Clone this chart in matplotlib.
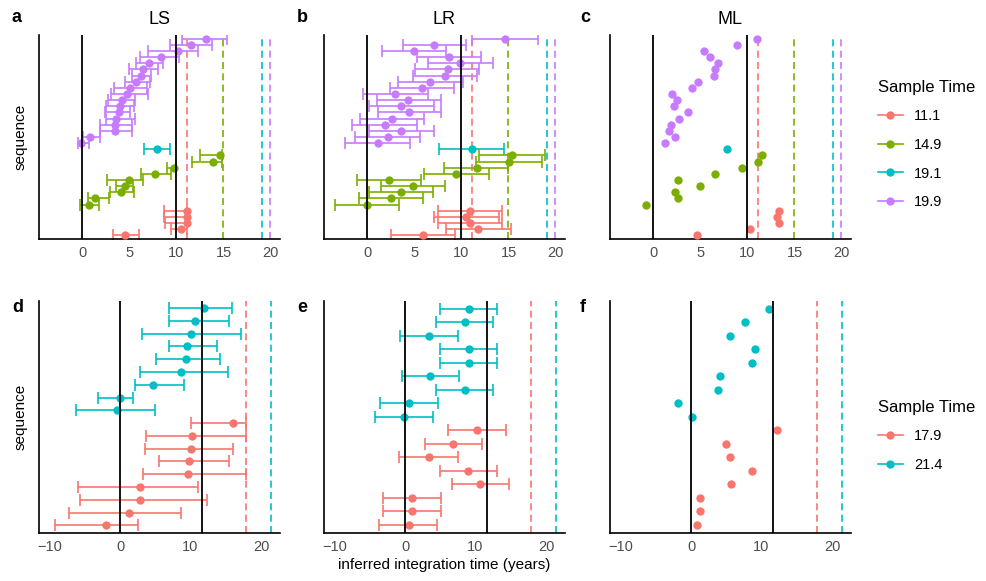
import numpy as np
import matplotlib
matplotlib.use("Agg")
import matplotlib.pyplot as plt
from matplotlib.lines import Line2D

plt.rcParams['font.family'] = ['Liberation Sans', 'DejaVu Sans']

# ---- data (rows listed top -> bottom as drawn) ----
top_times = [11.1, 14.9, 19.1, 19.9]
top_groups = [19.9] * 18 + [19.1] + [14.9] * 9 + [11.1] * 5
top_black = [0, 10]

ls_est = [13.1, 11.5, 10.2, 8.4, 7.1, 6.4, 6.2, 5.7, 5.1, 4.8, 4.2, 4.0, 3.9, 3.6, 3.5, 3.5, 0.8, -0.1,
          7.9,
          14.6, 13.9, 9.7, 7.7, 5.0, 4.5, 4.1, 1.4, 0.7,
          11.1, 11.1, 11.1, 10.5, 4.5]
ls_lo = [10.6, 9.3, 7.0, 6.1, 5.7, 5.0, 5.3, 4.5, 3.4, 3.1, 2.7, 2.5, 2.4, 2.5, 1.9, 1.9, 0.1, -0.5,
         6.6,
         12.5, 11.6, 9.0, 6.2, 2.6, 3.6, 2.9, 0.6, -0.2,
         8.7, 8.7, 8.8, 9.4, 3.3]
ls_hi = [15.4, 13.8, 12.3, 10.3, 8.6, 8.0, 7.3, 7.2, 6.9, 7.0, 5.6, 5.5, 5.1, 5.6, 5.3, 5.3, 1.9, 0.7,
         9.3,
         14.8, 14.8, 10.0, 9.4, 6.5, 5.4, 5.5, 2.8, 1.8,
         11.1, 11.1, 11.1, 11.1, 6.0]

lr_est = [14.6, 7.1, 5.0, 8.7, 9.8, 8.6, 8.3, 6.7, 5.8, 2.9, 4.3, 3.6, 4.4, 2.6, 1.9, 3.6, 2.2, 1.1,
          11.1,
          15.4, 15.0, 11.6, 9.4, 2.3, 4.9, 3.6, 2.5, 0.0,
          10.9, 10.5, 10.9, 11.8, 5.9]
lr_lo = [11.1, 3.8, 1.6, 5.3, 6.4, 5.1, 4.9, 3.3, 2.4, -0.5, 1.0, 0.2, 1.1, -0.8, -1.6, 0.2, -1.3, -2.4,
         7.6,
         11.9, 11.5, 8.1, 6.0, -1.1, 1.5, 0.2, -0.9, -3.4,
         7.5, 7.1, 7.5, 8.4, 2.5]
lr_hi = [18.1, 10.5, 8.4, 12.1, 13.3, 11.9, 11.7, 10.2, 9.2, 6.4, 7.8, 7.1, 7.8, 6.0, 5.3, 7.1, 5.6, 4.5,
         14.5,
         18.9, 18.6, 14.9, 12.9, 5.7, 8.3, 7.0, 5.9, 3.4,
         14.3, 14.0, 14.3, 15.3, 9.3]

ml_est = [11.0, 8.9, 5.4, 6.0, 6.9, 6.6, 6.4, 4.7, 4.1, 2.0, 2.5, 2.2, 3.7, 2.7, 1.9, 1.7, 2.3, 1.2,
          7.8,
          11.5, 11.1, 9.4, 6.6, 2.6, 5.0, 2.3, 2.6, -0.8,
          13.4, 13.1, 13.4, 10.3, 4.6]

bot_times = [17.9, 21.4]
bot_black = [0, 11.6]
d_groups = [21.4] * 9 + [17.9] * 9
ef_groups = [21.4] * 9 + [17.9] * 8

d_est = [11.9, 10.6, 10.0, 9.5, 9.3, 8.7, 4.7, 0.0, -0.4,
         16.0, 10.2, 10.1, 9.8, 9.6, 2.9, 2.9, 1.3, -2.0]
d_lo = [6.9, 6.9, 3.1, 6.9, 5.1, 2.8, 2.1, -3.1, -6.2,
        10.0, 3.7, 3.5, 5.5, 3.2, -5.9, -5.7, -7.3, -9.2]
d_hi = [15.9, 15.5, 17.1, 13.7, 14.2, 15.3, 9.1, 1.8, 5.0,
        17.9, 17.9, 16.1, 15.5, 17.9, 11.1, 12.3, 8.6, 2.6]

e_est = [9.1, 8.5, 3.4, 9.1, 9.1, 3.6, 8.5, 0.6, -0.1,
         10.2, 6.8, 3.4, 9.0, 10.7, 1.0, 1.0, 0.5]
e_lo = [5.0, 4.4, -0.7, 5.0, 5.0, -0.5, 4.4, -3.6, -4.3,
        6.1, 2.8, -0.8, 5.0, 6.7, -3.1, -3.1, -3.7]
e_hi = [13.1, 12.5, 7.5, 13.1, 13.1, 7.6, 12.5, 4.7, 4.0,
        14.3, 10.9, 7.5, 13.1, 14.8, 5.1, 5.1, 4.6]

f_est = [11.0, 7.7, 5.6, 9.1, 8.7, 4.1, 3.8, -1.8, 0.2,
         12.2, 4.9, 5.6, 8.7, 5.7, 1.3, 1.3, 0.8]

top_colors = {11.1: '#F8766D', 14.9: '#7CAE00', 19.1: '#00BFC4', 19.9: '#C77CFF'}
bot_colors = {17.9: '#F8766D', 21.4: '#00BFC4'}


def draw_panel(ax, est, lo, hi, groups, colors, times, black, xlim, ticks):
    n = len(est)
    y = np.arange(n, 0, -1)
    for t in times:
        ax.axvline(t, color=colors[t], ls=(0, (4.2, 2.6)), lw=1.2, zorder=1)
    for i in range(n):
        c = colors[groups[i]]
        if lo is not None:
            ax.errorbar(est[i], y[i], xerr=[[est[i] - lo[i]], [hi[i] - est[i]]],
                        fmt='none', ecolor=c, elinewidth=1.2, capsize=4.2,
                        capthick=1.2, zorder=2)
        ax.plot(est[i], y[i], 'o', color=c, ms=6.0, mec='none', zorder=3)
    for b in black:
        ax.axvline(b, color='black', lw=1.3, zorder=4)
    ax.set_xlim(*xlim)
    ax.set_ylim(0.4, n + 0.6)
    ax.set_xticks(ticks)
    ax.set_xticklabels([str(t).replace('-', '\u2212') for t in ticks])
    ax.set_yticks([])
    for s in ['top', 'right']:
        ax.spines[s].set_visible(False)
    for s in ['left', 'bottom']:
        ax.spines[s].set_linewidth(1.2)
        ax.spines[s].set_color('black')
    ax.tick_params(axis='x', length=0, labelsize=10.5, labelcolor='#4D4D4D', pad=5)


fig = plt.figure(figsize=(9.87, 5.81), dpi=100)
W, H = 987, 581


def add_ax(l, t, r, b):
    return fig.add_axes([l / W, 1 - b / H, (r - l) / W, (b - t) / H])


top_xlim = (-4.6, 21.0)
bot_xlim = (-11.5, 22.7)
top_ticks = [0, 5, 10, 15, 20]
bot_ticks = [-10, 0, 10, 20]

ax_a = add_ax(39, 35, 280, 239)
ax_b = add_ax(324, 35, 565, 239)
ax_c = add_ax(610, 35, 851, 239)
ax_d = add_ax(39, 300.5, 280, 533)
ax_e = add_ax(324, 300.5, 565, 533)
ax_f = add_ax(610, 300.5, 851, 533)

draw_panel(ax_a, ls_est, ls_lo, ls_hi, top_groups, top_colors, top_times, top_black, top_xlim, top_ticks)
draw_panel(ax_b, lr_est, lr_lo, lr_hi, top_groups, top_colors, top_times, top_black, top_xlim, top_ticks)
draw_panel(ax_c, ml_est, None, None, top_groups, top_colors, top_times, top_black, top_xlim, top_ticks)
draw_panel(ax_d, d_est, d_lo, d_hi, d_groups, bot_colors, bot_times, bot_black, bot_xlim, bot_ticks)
draw_panel(ax_e, e_est, e_lo, e_hi, ef_groups, bot_colors, bot_times, bot_black, bot_xlim, bot_ticks)
draw_panel(ax_f, f_est, None, None, ef_groups, bot_colors, bot_times, bot_black, bot_xlim, bot_ticks)

for ax, title in [(ax_a, 'LS'), (ax_b, 'LR'), (ax_c, 'ML')]:
    ax.set_title(title, fontsize=13, pad=8)

for x, y, lab in [(12, 17, 'a'), (297, 17, 'b'), (580, 17, 'c'),
                  (12, 308, 'd'), (297, 308, 'e'), (580, 308, 'f')]:
    fig.text(x / W, 1 - y / H, lab, fontsize=13, fontweight='bold', va='center', ha='left')

ax_a.set_ylabel('sequence', fontsize=11, labelpad=8)
ax_d.set_ylabel('sequence', fontsize=11, labelpad=8)
ax_e.set_xlabel('inferred integration time (years)', fontsize=11, labelpad=3)


def legend_at(times, colors, top_px):
    handles = [Line2D([0], [0], color=colors[t], marker='o', ms=6.0, mec='none', lw=1.2)
               for t in times]
    leg = fig.legend(handles, [str(t) for t in times], title='Sample Time',
                     loc='upper left', bbox_to_anchor=(872 / W, 1 - top_px / H),
                     frameon=False, fontsize=10.5, title_fontsize=12,
                     handlelength=1.7, labelspacing=1.0, handletextpad=0.8,
                     borderaxespad=0)
    leg._legend_box.align = 'left'
    return leg


legend_at(top_times, top_colors, 74)
legend_at(bot_times, bot_colors, 394)

fig.savefig('out.png', dpi=100)
